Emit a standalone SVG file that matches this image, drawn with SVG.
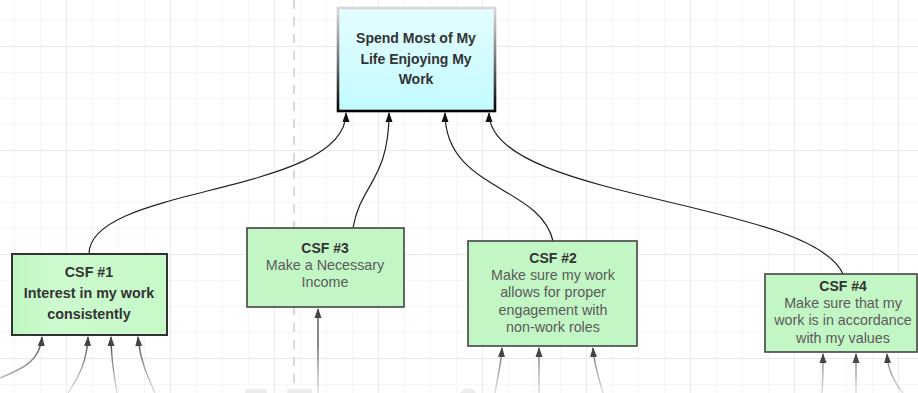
<svg xmlns="http://www.w3.org/2000/svg" width="918" height="393" viewBox="0 0 918 393">
<defs>
<pattern id="grid" x="14" y="20" width="26" height="26" patternUnits="userSpaceOnUse">
<path d="M0 0 H26 M0 0 V26" stroke="#f0f0f0" stroke-width="1.2" fill="none"/>
</pattern>
<pattern id="gridMajor" x="66" y="46" width="104" height="104" patternUnits="userSpaceOnUse">
<path d="M0 0 H104 M0 0 V104" stroke="#e6e6e6" stroke-width="1.3" fill="none"/>
</pattern>
<linearGradient id="topFill" x1="0" y1="0" x2="0" y2="1">
<stop offset="0" stop-color="#e4fdff"/>
<stop offset="1" stop-color="#c2fbff"/>
</linearGradient>
<linearGradient id="topStroke" x1="0" y1="0" x2="0" y2="1">
<stop offset="0" stop-color="#d8d8d8"/>
<stop offset="0.5" stop-color="#777"/>
<stop offset="1" stop-color="#000"/>
</linearGradient>
<linearGradient id="csf1Fill" x1="0" y1="0" x2="1" y2="0">
<stop offset="0" stop-color="#bdf6bf"/>
<stop offset="0.25" stop-color="#cdfbcf"/>
<stop offset="1" stop-color="#c6f8c8"/>
</linearGradient>
<linearGradient id="fadeUp" gradientUnits="userSpaceOnUse" x1="0" y1="393" x2="0" y2="345">
<stop offset="0" stop-color="#777" stop-opacity="0.25"/>
<stop offset="1" stop-color="#555" stop-opacity="1"/>
</linearGradient>
<marker id="ah" viewBox="0 0 10 10" refX="9" refY="5" markerWidth="10" markerHeight="10" markerUnits="userSpaceOnUse" orient="auto">
<path d="M0 1.5 L10 5 L0 8.5 Z" fill="#111"/>
</marker>
<marker id="ahg" viewBox="0 0 10 10" refX="9" refY="5" markerWidth="10" markerHeight="10" markerUnits="userSpaceOnUse" orient="auto">
<path d="M0 1.5 L10 5 L0 8.5 Z" fill="#444"/>
</marker>
</defs>
<style>
.t { font-family: "Liberation Sans", Arial, sans-serif; text-anchor: middle; }
.b { font-weight: bold; fill: #333; }
.n { fill: #5a5a5a; font-size: 14.3px; }
.csf { fill: #c3f6c5; stroke: #444; stroke-width: 1.6; }
.conn { fill: none; stroke: #222; stroke-width: 1.2; marker-end: url(#ah); }
.inc { fill: none; stroke: url(#fadeUp); stroke-width: 1.4; marker-end: url(#ahg); }
</style>
<rect width="918" height="393" fill="#fff"/>
<rect width="918" height="393" fill="url(#grid)"/>
<rect width="918" height="393" fill="url(#gridMajor)"/>
<line x1="294" y1="0" x2="294" y2="390" stroke="#d9d9d9" stroke-width="2" stroke-dasharray="9 8"/>
<g id="faint" fill="#ececec">
<rect x="245" y="389" width="22" height="8" rx="2"/>
<rect x="287" y="389" width="25" height="8" rx="2"/>
<circle cx="468" cy="397" r="9"/>
</g>
<g id="connectors">
<path class="conn" d="M89 254 C89 185 346 195 346 113"/>
<path class="conn" d="M353 228 C360 185 389 180 389 113"/>
<path class="conn" d="M553 241 C540 185 445 190 445 113"/>
<path class="conn" d="M843 274 C810 200 489 200 489 113"/>
<path class="inc" d="M0 378 C25 368 40 360 42 337"/>
<path class="inc" d="M68 393 C80 375 87 360 88 337"/>
<path class="inc" d="M117 393 C114 375 111 360 111 337"/>
<path class="inc" d="M155 393 C147 375 140 360 138 337"/>
<path class="inc" d="M318 393 L318 309"/>
<path class="inc" d="M495 393 C498 375 501 365 502 348"/>
<path class="inc" d="M539 393 L539 348"/>
<path class="inc" d="M603 393 C598 375 594 365 593 348"/>
<path class="inc" d="M822 393 C823 380 823 370 823 354"/>
<path class="inc" d="M856 393 L856 354"/>
<path class="inc" d="M903 393 C893 380 888 370 887 354"/>
</g>
<g id="goal">
<rect x="338" y="8" width="157" height="103" fill="url(#topFill)" stroke="url(#topStroke)" stroke-width="2.6"/>
<text class="t b" font-size="14"><tspan x="416" y="43">Spend Most of My</tspan><tspan x="416" y="64">Life Enjoying My</tspan><tspan x="416" y="84">Work</tspan></text>
</g>
<g id="csf1">
<rect x="12" y="254" width="155" height="81" fill="url(#csf1Fill)" stroke="#333" stroke-width="2"/>
<text class="t b" font-size="14.3"><tspan x="89" y="277">CSF #1</tspan><tspan x="89" y="298">Interest in my work</tspan><tspan x="89" y="319">consistently</tspan></text>
</g>
<g id="csf3">
<rect class="csf" x="247" y="228" width="157" height="79"/>
<text class="t"><tspan class="b" font-size="14" x="325" y="253">CSF #3</tspan><tspan class="n" x="325" y="270">Make a Necessary</tspan><tspan class="n" x="325" y="287">Income</tspan></text>
</g>
<g id="csf2">
<rect class="csf" x="468" y="241" width="169" height="105"/>
<text class="t"><tspan class="b" font-size="14" x="553" y="263">CSF #2</tspan><tspan class="n" x="553" y="280">Make sure my work</tspan><tspan class="n" x="553" y="297">allows for proper</tspan><tspan class="n" x="553" y="315">engagement with</tspan><tspan class="n" x="553" y="332">non-work roles</tspan></text>
</g>
<g id="csf4">
<rect class="csf" x="765" y="274" width="152" height="78"/>
<text class="t"><tspan class="b" font-size="14" x="843" y="291">CSF #4</tspan><tspan class="n" x="843" y="308">Make sure that my</tspan><tspan class="n" x="843" y="325">work is in accordance</tspan><tspan class="n" x="843" y="343">with my values</tspan></text>
</g>
</svg>
